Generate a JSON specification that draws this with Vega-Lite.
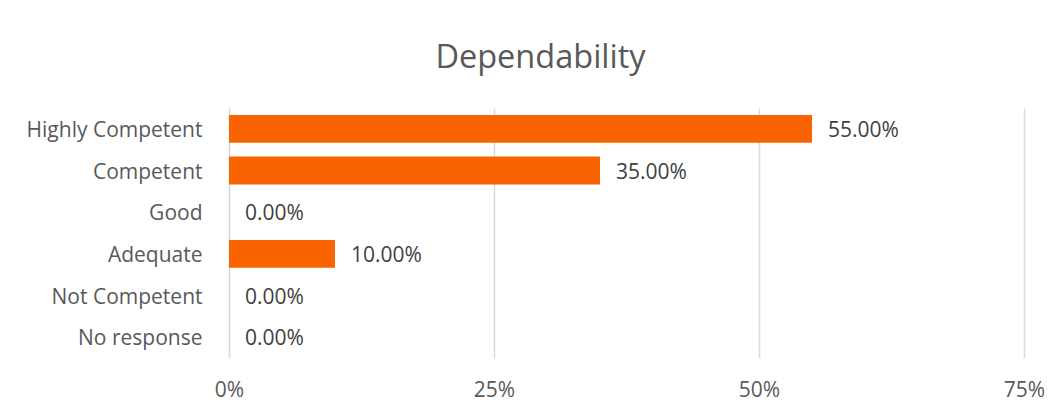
{
  "$schema": "https://vega.github.io/schema/vega-lite/v6.json",
  "autosize": {"type": "none"},
  "width": 795,
  "height": 250,
  "padding": {"left": 229, "top": 108, "right": 37, "bottom": 54},
  "background": "white",
  "title": {
    "text": "Dependability",
    "anchor": "middle",
    "frame": "group",
    "dx": -86,
    "offset": 34,
    "fontSize": 32.5,
    "font": "Open Sans",
    "fontWeight": "normal",
    "color": "#595959"
  },
  "data": {
    "values": [
      {"rating": "Highly Competent", "share": 0.55},
      {"rating": "Competent", "share": 0.35},
      {"rating": "Good ", "share": 0.0},
      {"rating": "Adequate", "share": 0.10},
      {"rating": "Not Competent", "share": 0.0},
      {"rating": "No response", "share": 0.0}
    ]
  },
  "encoding": {
    "y": {
      "field": "rating",
      "type": "nominal",
      "sort": null,
      "scale": {"paddingInner": 0.33, "paddingOuter": 0.165},
      "axis": {
        "title": null,
        "domain": false,
        "ticks": false,
        "labelPadding": 27,
        "labelOffset": 2,
        "labelFont": "Open Sans",
        "labelFontSize": 21,
        "labelColor": "#595959"
      }
    },
    "x": {
      "field": "share",
      "type": "quantitative",
      "scale": {"domain": [0, 0.75]},
      "axis": {
        "title": null,
        "values": [0, 0.25, 0.5, 0.75],
        "format": ".0%",
        "domain": false,
        "ticks": false,
        "grid": true,
        "gridColor": "#d9d9d9",
        "gridWidth": 1.5,
        "labelFlush": false,
        "labelPadding": 21,
        "labelFont": "Open Sans",
        "labelFontSize": 21,
        "labelColor": "#595959"
      }
    }
  },
  "layer": [
    {"mark": {"type": "bar", "color": "#FA6400"}},
    {
      "mark": {"type": "text", "align": "left", "dx": 16, "dy": 2, "font": "Open Sans", "fontSize": 21, "color": "#404040"},
      "encoding": {"text": {"field": "share", "type": "quantitative", "format": ".2%"}}
    }
  ],
  "config": {"view": {"stroke": null}}
}
